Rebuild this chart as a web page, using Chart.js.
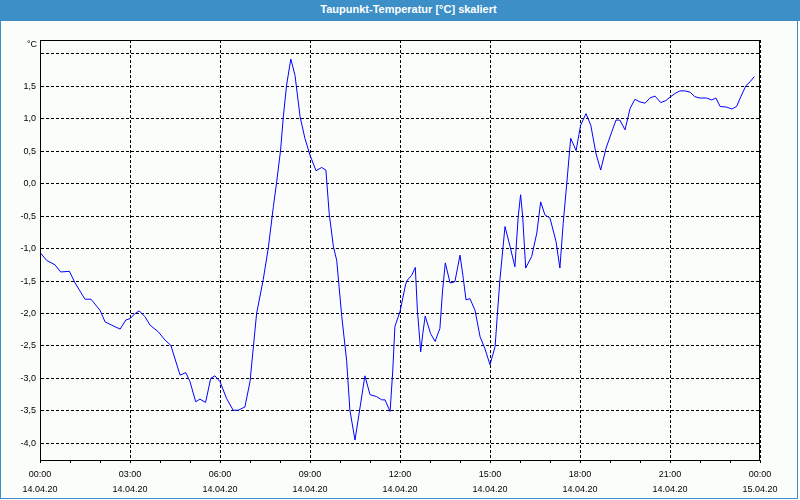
<!DOCTYPE html>
<html>
<head>
<meta charset="utf-8">
<script src="https://cdn.jsdelivr.net/npm/chart.js@4.4.0/dist/chart.umd.min.js"></script>
<style>
    html, body { margin: 0; padding: 0; background: #ffffff; }
    #frame {
        position: absolute; left: 0; top: 0;
        width: 798px; height: 499px;
        box-sizing: border-box;
        border: 1px solid #3d8fc7;
        background: #fbfdfb;
    }
    #titlebar {
        position: absolute; left: 0; top: 0;
        width: 800px; height: 21px;
        background: #3d8fc7;
        color: #ffffff;
        font: bold 11px "Liberation Sans", Arial, sans-serif;
        line-height: 19px;
        text-align: center;
        text-indent: 17px;
    }
    #wrap { position: absolute; left: 0; top: 0; width: 800px; height: 500px; }
</style>
</head>
<body>
<div id="frame"></div>
<div id="titlebar">Taupunkt-Temperatur [°C] skaliert</div>
<div id="wrap"><canvas id="dewChart" width="800" height="500"></canvas></div>

<script>
// hours since 14.04.20 00:00
const hours = [
    0.0, 0.22, 0.5, 0.69, 0.98, 1.17, 1.5, 1.7, 2.0, 2.17, 2.44, 2.67, 2.86, 3.0, 3.17, 3.31,
    3.5, 3.67, 3.94, 4.17, 4.36, 4.67, 4.86, 5.0, 5.19, 5.33, 5.52, 5.69, 5.83, 6.0, 6.22, 6.44,
    6.61, 6.83, 7.0, 7.22, 7.44, 7.61, 7.78, 7.89, 8.02, 8.11, 8.22, 8.36, 8.5, 8.67, 8.83, 9.0,
    9.2, 9.39, 9.53, 9.64, 9.78, 9.89, 10.06, 10.22, 10.33, 10.5, 10.67, 10.83, 11.0, 11.22, 11.39, 11.5,
    11.67, 11.76, 11.83, 12.0, 12.17, 12.22, 12.39, 12.51, 12.58, 12.69, 12.76, 12.84, 13.02, 13.17, 13.33, 13.42,
    13.51, 13.67, 13.83, 14.0, 14.11, 14.2, 14.33, 14.5, 14.67, 14.83, 15.0, 15.17, 15.24, 15.33, 15.5, 15.67,
    15.83, 15.94, 16.02, 16.09, 16.19, 16.39, 16.56, 16.69, 16.83, 17.0, 17.2, 17.33, 17.44, 17.56, 17.69, 17.87,
    18.02, 18.2, 18.36, 18.53, 18.69, 18.87, 19.06, 19.2, 19.33, 19.5, 19.67, 19.83, 20.0, 20.17, 20.33, 20.5,
    20.69, 20.86, 21.02, 21.17, 21.33, 21.5, 21.67, 21.83, 22.0, 22.22, 22.39, 22.53, 22.67, 22.89, 23.06, 23.22,
    23.36, 23.53, 23.67, 23.81
];

// dew point in °C
const dewPoint = [
    -1.06, -1.18, -1.25, -1.36, -1.35, -1.53, -1.78, -1.78, -1.95, -2.13, -2.19, -2.24, -2.10, -2.08, -2.0, -1.96,
    -2.05, -2.18, -2.28, -2.41, -2.49, -2.95, -2.91, -3.05, -3.36, -3.32, -3.37, -3.0, -2.96, -3.05, -3.31, -3.49,
    -3.49, -3.44, -3.05, -2.0, -1.48, -0.99, -0.35, 0.03, 0.52, 1.03, 1.52, 1.92, 1.67, 1.03, 0.70, 0.44,
    0.2, 0.25, 0.21, -0.46, -0.97, -1.18, -2.05, -2.72, -3.49, -3.95, -3.44, -2.96, -3.25, -3.28, -3.33, -3.33,
    -3.51, -2.87, -2.20, -1.97, -1.59, -1.50, -1.41, -1.29, -1.95, -2.59, -2.31, -2.04, -2.31, -2.43, -2.23, -1.64,
    -1.22, -1.53, -1.51, -1.10, -1.46, -1.79, -1.77, -1.95, -2.36, -2.54, -2.79, -2.51, -2.05, -1.48, -0.66, -0.97,
    -1.28, -0.51, -0.17, -0.51, -1.30, -1.12, -0.76, -0.28, -0.48, -0.53, -0.89, -1.30, -0.61, 0.01, 0.70, 0.51,
    0.90, 1.08, 0.90, 0.47, 0.21, 0.55, 0.80, 0.98, 0.98, 0.83, 1.16, 1.30, 1.26, 1.24, 1.32, 1.35,
    1.25, 1.28, 1.34, 1.39, 1.43, 1.43, 1.41, 1.34, 1.32, 1.32, 1.29, 1.32, 1.19, 1.18, 1.15, 1.19,
    1.34, 1.51, 1.57, 1.65
];

const yTicks = [-4.0, -3.5, -3.0, -2.5, -2.0, -1.5, -1.0, -0.5, 0.0, 0.5, 1.0, 1.5, 2.0];
const yLabels = ['-4,0', '-3,5', '-3,0', '-2,5', '-2,0', '-1,5', '-1,0', '-0,5', '0,0', '0,5', '1,0', '1,5', ''];
const xTicks = [0, 3, 6, 9, 12, 15, 18, 21, 24];
const xLabels = [
    ['00:00', '14.04.20'], ['03:00', '14.04.20'], ['06:00', '14.04.20'],
    ['09:00', '14.04.20'], ['12:00', '14.04.20'], ['15:00', '14.04.20'],
    ['18:00', '14.04.20'], ['21:00', '14.04.20'], ['00:00', '15.04.20']
];
const unitLabel = '°C';

const tickFont = { family: '"Liberation Sans", Arial, sans-serif', size: 9 };

// box around the plot and the unit label above the y axis
const framePlugin = {
    id: 'framePlugin',
    afterDraw(chart) {
        const { ctx, chartArea } = chart;
        ctx.save();
        ctx.strokeStyle = '#000000';
        ctx.lineWidth = 1;
        ctx.setLineDash([]);
        ctx.strokeRect(chartArea.left + 0.5, chartArea.top + 0.5,
            chartArea.right - chartArea.left - 1, chartArea.bottom - chartArea.top);
        ctx.fillStyle = '#000000';
        ctx.font = '9px "Liberation Sans", Arial, sans-serif';
        ctx.textAlign = 'right';
        ctx.textBaseline = 'middle';
        ctx.fillText(unitLabel, chartArea.left - 3, chartArea.top + 5);
        ctx.restore();
    }
};

const ctx = document.getElementById('dewChart').getContext('2d');
new Chart(ctx, {
    type: 'line',
    data: {
        datasets: [{
            data: hours.map((h, i) => ({ x: h, y: dewPoint[i] })),
            borderColor: '#0000ff',
            borderWidth: 1,
            pointRadius: 0,
            tension: 0,
            fill: false
        }]
    },
    options: {
        responsive: false,
        animation: false,
        layout: { padding: { top: 40, right: 40, left: 0, bottom: 0 } },
        plugins: {
            legend: { display: false },
            tooltip: { enabled: false }
        },
        scales: {
            x: {
                type: 'linear',
                min: 0,
                max: 24,
                afterFit: scale => { scale.height = 40; },
                afterBuildTicks: scale => {
                    const t = [];
                    for (let h = 0; h <= 24; h++) t.push({ value: h });
                    scale.ticks = t;
                },
                grid: {
                    color: c => (c.tick && c.tick.value % 3 === 0) ? '#000000' : 'rgba(0,0,0,0)',
                    tickColor: '#000000',
                    tickLength: 3,
                    lineWidth: 1
                },
                border: { color: '#000000', dash: [3, 2] },
                ticks: {
                    autoSkip: false,
                    maxRotation: 0,
                    padding: 4,
                    color: '#000000',
                    font: { ...tickFont, lineHeight: 1.65 },
                    callback: value => {
                        const i = xTicks.indexOf(value);
                        return i >= 0 ? xLabels[i] : '';
                    }
                }
            },
            y: {
                min: -4.257,
                max: 2.214,
                afterFit: scale => { scale.width = 40; },
                afterBuildTicks: scale => {
                    scale.ticks = yTicks.map(v => ({ value: v }));
                },
                grid: {
                    color: '#000000',
                    drawTicks: false,
                    lineWidth: 1
                },
                border: { color: '#000000', dash: [3, 2] },
                ticks: {
                    padding: 4,
                    color: '#000000',
                    font: tickFont,
                    callback: (value, index) => yLabels[index]
                }
            }
        }
    },
    plugins: [framePlugin]
});
</script>
</body>
</html>
